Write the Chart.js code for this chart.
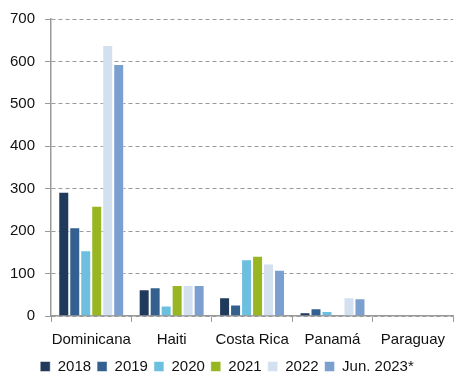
<!DOCTYPE html>
<html>
<head>
<meta charset="utf-8">
<script src="https://cdn.jsdelivr.net/npm/chart.js@4/dist/chart.umd.min.js"></script>
<style>
  html, body { margin: 0; padding: 0; background: #fff; }
  #wrap { width: 454px; height: 375px; }
</style>
</head>
<body>
<div id="wrap"><canvas id="chart" width="454" height="375"></canvas></div>
<script>
// Países y años
const paises = ['Dominicana', 'Haiti', 'Costa Rica', 'Panamá', 'Paraguay'];
const anios = ['2018', '2019', '2020', '2021', '2022', 'Jun. 2023*'];

// Valores por año (mismo orden que paises)
const v2018 = [293, 63, 44, 9, 0];
const v2019 = [209, 68, 27, 18, 0];
const v2020 = [155, 25, 134, 12, 0];
const v2021 = [260, 73, 142, 0, 0];
const v2022 = [639, 73, 124, 44, 2];
const vJun2023 = [594, 73, 109, 42, 0];

const yTicks = [0, 100, 200, 300, 400, 500, 600, 700];

const colores = ['#203a5c', '#33608f', '#6dbfe0', '#98b622', '#d3e0ef', '#7ba0cf'];
const series = [v2018, v2019, v2020, v2021, v2022, vJun2023];

const fuente = { family: "'Liberation Sans', Arial, sans-serif", size: 15 };

const ctx = document.getElementById('chart').getContext('2d');
new Chart(ctx, {
  type: 'bar',
  data: {
    labels: paises,
    datasets: anios.map((a, i) => ({
      label: a,
      data: series[i],
      backgroundColor: colores[i],
      borderColor: 'rgba(255,255,255,0.5)',
      borderWidth: 1,
      categoryPercentage: 0.82,
      barPercentage: 1
    }))
  },
  options: {
    responsive: false,
    animation: false,
    layout: { padding: { top: 7, right: 0, left: 0, bottom: -9 } },
    plugins: {
      tooltip: { enabled: false },
      legend: {
        position: 'bottom',
        labels: {
          boxWidth: 10,
          boxHeight: 10,
          padding: 6,
          color: '#111',
          font: fuente
        }
      }
    },
    scales: {
      x: {
        // eje más bajo: las etiquetas quedan pegadas a la leyenda
        afterFit: axis => { axis.height -= 5; },
        grid: {
          offset: true,
          drawOnChartArea: false,
          drawTicks: true,
          tickLength: 6,
          color: '#999'
        },
        border: { color: '#999', width: 1.5 },
        ticks: { color: '#111', font: fuente, padding: 9, maxRotation: 0, autoSkip: false }
      },
      y: {
        min: 0,
        max: 700,
        afterBuildTicks: axis => { axis.ticks = yTicks.map(v => ({ value: v })); },
        grid: {
          color: '#999',
          tickLength: 6,
          drawTicks: true
        },
        // dash se aplica a las líneas de la cuadrícula
        border: { color: '#999', width: 1.5, dash: [4, 3] },
        ticks: { color: '#111', font: fuente, padding: 10 }
      }
    }
  }
});
</script>
</body>
</html>
